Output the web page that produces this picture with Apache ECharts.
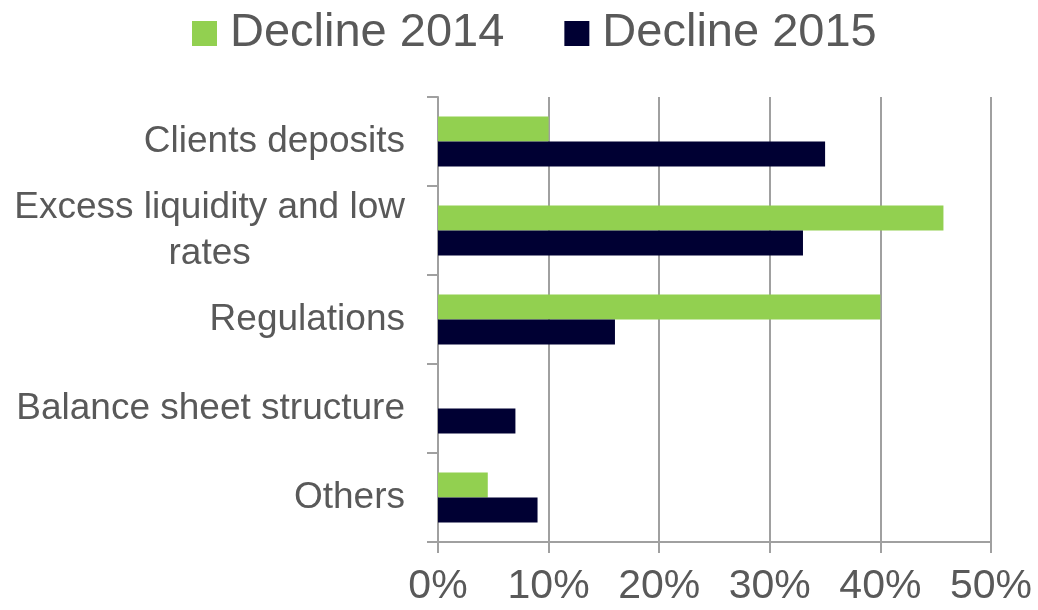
<!DOCTYPE html>
<html>
<head>
<meta charset="utf-8">
<script src="https://cdn.jsdelivr.net/npm/echarts@6/dist/echarts.min.js"></script>
<style>
  html, body { margin: 0; padding: 0; background: #fff; }
  #main { width: 1038px; height: 610px; }
</style>
</head>
<body>
<div id="main"></div>
<script>
var categories = ['Clients deposits', 'Excess liquidity and low\nrates', 'Regulations', 'Balance sheet structure', 'Others'];
var decline2014 = [10, 45.7, 40, 0, 4.5];
var decline2015 = [35, 33, 16, 7, 9];
var xTicks = { min: 0, max: 50, interval: 10 };

var font = '"Liberation Sans", Arial, sans-serif';
var textGrey = '#595959';
var lineGrey = '#a0a0a0';

var chartDom = document.getElementById('main');
var myChart = echarts.init(chartDom);

var option = {
  animation: false,
  textStyle: { fontFamily: font },
  legend: {
    left: 192,
    top: 10,
    padding: 0,
    itemWidth: 25,
    itemHeight: 25,
    itemGap: 60,
    icon: 'rect',
    textStyle: { fontSize: 47, color: textGrey, fontFamily: font, padding: [0, 0, 0, 8] },
    data: ['Decline 2014', 'Decline 2015']
  },
  grid: { left: 438, right: 47, top: 97, bottom: 68, containLabel: false },
  xAxis: {
    type: 'value',
    min: xTicks.min,
    max: xTicks.max,
    interval: xTicks.interval,
    axisLine: { show: true, lineStyle: { color: lineGrey, width: 2 } },
    axisTick: { show: true, length: 11, lineStyle: { color: lineGrey, width: 2 } },
    splitLine: { show: true, lineStyle: { color: lineGrey, width: 2 } },
    axisLabel: {
      formatter: '{value}%',
      fontSize: 41,
      color: textGrey,
      fontFamily: font,
      margin: 24
    }
  },
  yAxis: {
    type: 'category',
    inverse: true,
    data: categories,
    axisLine: { show: true, lineStyle: { color: lineGrey, width: 2 } },
    axisTick: { show: true, length: 11, lineStyle: { color: lineGrey, width: 2 } },
    axisLabel: {
      margin: 33,
      formatter: function (v) {
        return v.split('\n').map(function (s) { return '{c|' + s + '}'; }).join('\n');
      },
      rich: {
        c: { fontSize: 37, color: textGrey, fontFamily: font, align: 'center', lineHeight: 46 }
      }
    }
  },
  series: [
    {
      name: 'Decline 2014',
      type: 'bar',
      data: decline2014,
      barWidth: 25,
      barGap: '0%',
      itemStyle: { color: '#92D050' }
    },
    {
      name: 'Decline 2015',
      type: 'bar',
      data: decline2015,
      barWidth: 25,
      barGap: '0%',
      itemStyle: { color: '#000033' }
    }
  ]
};

myChart.setOption(option);
window.onresize = function () { myChart.resize(); };
</script>
</body>
</html>
